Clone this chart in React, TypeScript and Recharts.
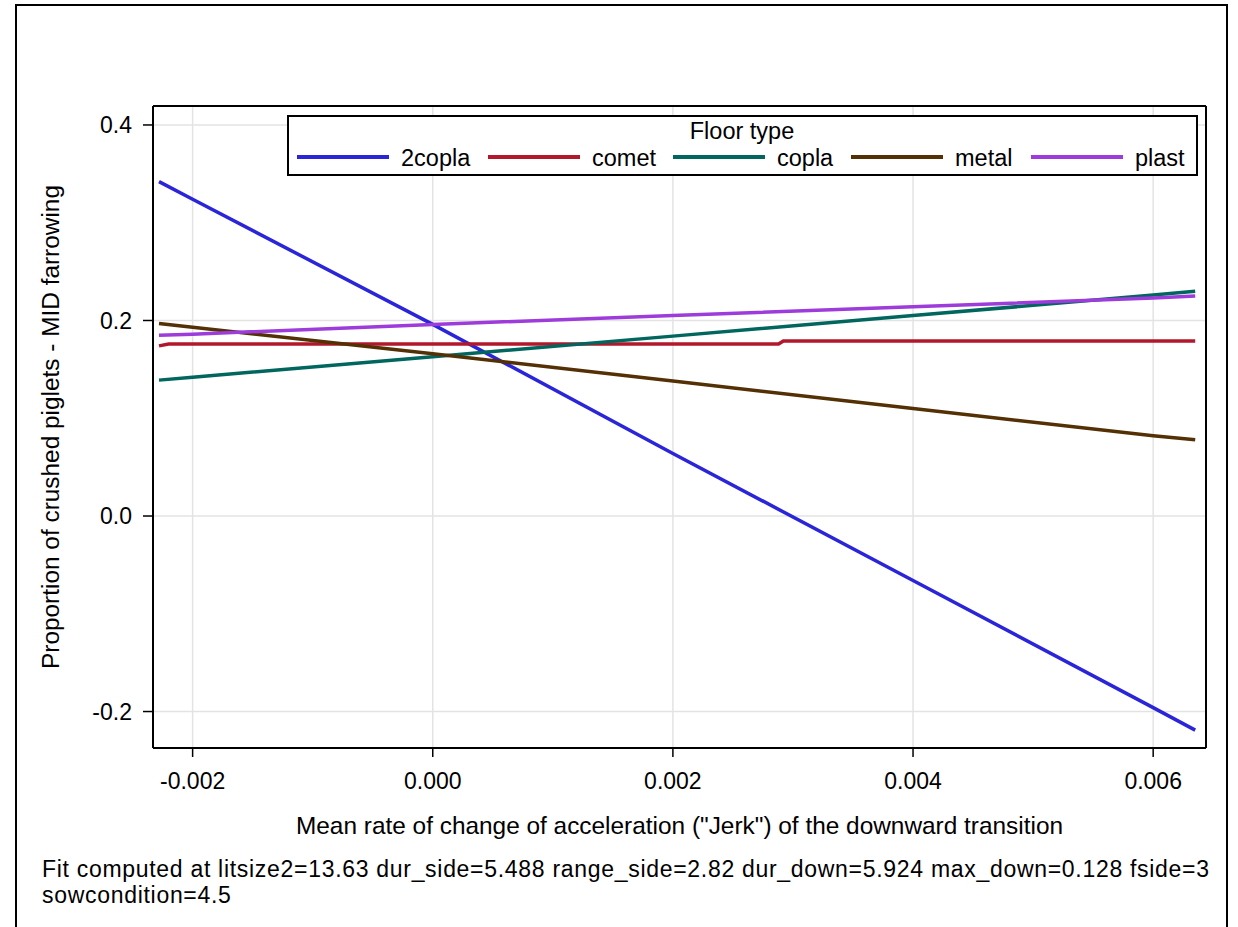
import React from 'react';
import { LineChart, Line, XAxis, YAxis, CartesianGrid, Legend, ReferenceLine } from 'recharts';

// x positions where values were read (mean jerk)
const xGrid = [-0.00228, -0.002, 0, 0.002, 0.004, 0.006, 0.00635];
const series2copla = [0.342, 0.324, 0.196, 0.064, -0.066, -0.196, -0.219];
const seriesCopla = [0.139, 0.142, 0.163, 0.184, 0.205, 0.226, 0.23];
const seriesMetal = [0.197, 0.193, 0.166, 0.138, 0.11, 0.082, 0.078];
const seriesPlast = [0.185, 0.186, 0.196, 0.205, 0.214, 0.223, 0.225];
// comet is nearly flat with a small step
const cometX = [-0.00228, -0.0022, 0.00288, 0.00292, 0.00635];
const seriesComet = [0.174, 0.176, 0.176, 0.179, 0.179];

const floorTypes = ['2copla', 'comet', 'copla', 'metal', 'plast'];
const colors = ['#2A25D9', '#B2182B', '#01665E', '#543005', '#9D3CDB'];

const xTicks = [-0.002, 0, 0.002, 0.004, 0.006];
const yTicks = [-0.2, 0, 0.2, 0.4];
const xDomain: [number, number] = [-0.00233, 0.00644];
const yDomain: [number, number] = [-0.2373, 0.4194];

const mainData = xGrid.map((x, i) => ({
  x,
  '2copla': series2copla[i],
  copla: seriesCopla[i],
  metal: seriesMetal[i],
  plast: seriesPlast[i],
}));
const cometData = cometX.map((x, i) => ({ x, comet: seriesComet[i] }));

const FONT = '"Liberation Sans", Arial, sans-serif';

const legendOffsets = [10, 201, 386, 564, 744];

const renderLegend = () => (
  <svg width={911} height={61} style={{ display: 'block', fontFamily: FONT }}>
    <rect x={1} y={1} width={909} height={59} fill="#fff" stroke="#000" strokeWidth={2} />
    <text x={455} y={16} textAnchor="middle" dominantBaseline="central" fontSize={23.5} fill="#000">
      Floor type
    </text>
    {floorTypes.map((name, i) => (
      <g key={name}>
        <line x1={legendOffsets[i]} x2={legendOffsets[i] + 92} y1={42} y2={42} stroke={colors[i]} strokeWidth={4} />
        <text x={legendOffsets[i] + 104} y={43} dominantBaseline="central" fontSize={23.5} fill="#000">
          {name}
        </text>
      </g>
    ))}
  </svg>
);

const YLabel = (props: any) => {
  const vb = props.viewBox || { y: 106, height: 642 };
  const cy = vb.y + vb.height / 2;
  return (
    <text
      x={50}
      y={cy}
      transform={`rotate(-90, 50, ${cy})`}
      textAnchor="middle"
      dominantBaseline="central"
      fontSize={24.4}
      fontFamily={FONT}
      fill="#000"
    >
      Proportion of crushed piglets - MID farrowing
    </text>
  );
};

const XLabel = (props: any) => {
  const vb = props.viewBox || { x: 153, width: 1053 };
  const cx = vb.x + vb.width / 2;
  return (
    <text x={cx} y={825} textAnchor="middle" dominantBaseline="central" fontSize={24.4} fontFamily={FONT} fill="#000">
      Mean rate of change of acceleration ("Jerk") of the downward transition
    </text>
  );
};

export default function App() {
  return (
    <div style={{ position: 'absolute', left: 0, top: 0, width: 1238, height: 927, background: '#fff' }}>
      <div style={{ position: 'absolute', left: 15, top: 4, width: 1213, height: 2, background: '#000' }} />
      <div style={{ position: 'absolute', left: 15, top: 4, width: 2, height: 923, background: '#000' }} />
      <div style={{ position: 'absolute', left: 1226, top: 4, width: 2, height: 923, background: '#000' }} />
      <LineChart
        width={1238}
        height={927}
        margin={{ top: 106, right: 32, bottom: 119, left: 0 }}
        style={{ position: 'absolute', left: 0, top: 0, fontFamily: FONT }}
      >
        <CartesianGrid stroke="#e3e3e3" strokeWidth={1.5} />
        <XAxis
          dataKey="x"
          type="number"
          domain={xDomain}
          ticks={xTicks}
          allowDataOverflow
          height={60}
          tickSize={9}
          tickMargin={16}
          tickFormatter={(v: number) => v.toFixed(3)}
          tick={{ fontSize: 23, fill: '#000', fontFamily: FONT }}
          axisLine={{ stroke: '#000', strokeWidth: 2 }}
          tickLine={{ stroke: '#000', strokeWidth: 1.5 }}
          label={<XLabel />}
        />
        <YAxis
          type="number"
          domain={yDomain}
          ticks={yTicks}
          allowDataOverflow
          width={153}
          tickSize={10}
          tickMargin={11}
          tickFormatter={(v: number) => v.toFixed(1)}
          tick={{ fontSize: 23, fill: '#000', fontFamily: FONT }}
          axisLine={{ stroke: '#000', strokeWidth: 2 }}
          tickLine={{ stroke: '#000', strokeWidth: 1.5 }}
          label={<YLabel />}
        />
        <ReferenceLine y={yDomain[1]} stroke="#000" strokeWidth={2} />
        <ReferenceLine x={xDomain[1]} stroke="#000" strokeWidth={2} />
        <Line data={mainData} dataKey="2copla" name="2copla" stroke={colors[0]} strokeWidth={3.5} dot={false} isAnimationActive={false} />
        <Line data={cometData} dataKey="comet" name="comet" stroke={colors[1]} strokeWidth={3.5} dot={false} isAnimationActive={false} />
        <Line data={mainData} dataKey="copla" name="copla" stroke={colors[2]} strokeWidth={3.5} dot={false} isAnimationActive={false} />
        <Line data={mainData} dataKey="metal" name="metal" stroke={colors[3]} strokeWidth={3.5} dot={false} isAnimationActive={false} />
        <Line data={mainData} dataKey="plast" name="plast" stroke={colors[4]} strokeWidth={3.5} dot={false} isAnimationActive={false} />
        <Legend
          layout="horizontal"
          verticalAlign="middle"
          align="center"
          content={renderLegend}
          wrapperStyle={{ position: 'absolute', left: 287, top: 115, width: 911, height: 61 }}
        />
      </LineChart>
      <div
        style={{
          position: 'absolute',
          left: 42,
          top: 856,
          fontFamily: FONT,
          fontSize: 23,
          letterSpacing: '0.7px',
          lineHeight: '26px',
          color: '#000',
          whiteSpace: 'pre',
        }}
      >
        {'Fit computed at litsize2=13.63 dur_side=5.488 range_side=2.82 dur_down=5.924 max_down=0.128 fside=3\nsowcondition=4.5'}
      </div>
    </div>
  );
}
